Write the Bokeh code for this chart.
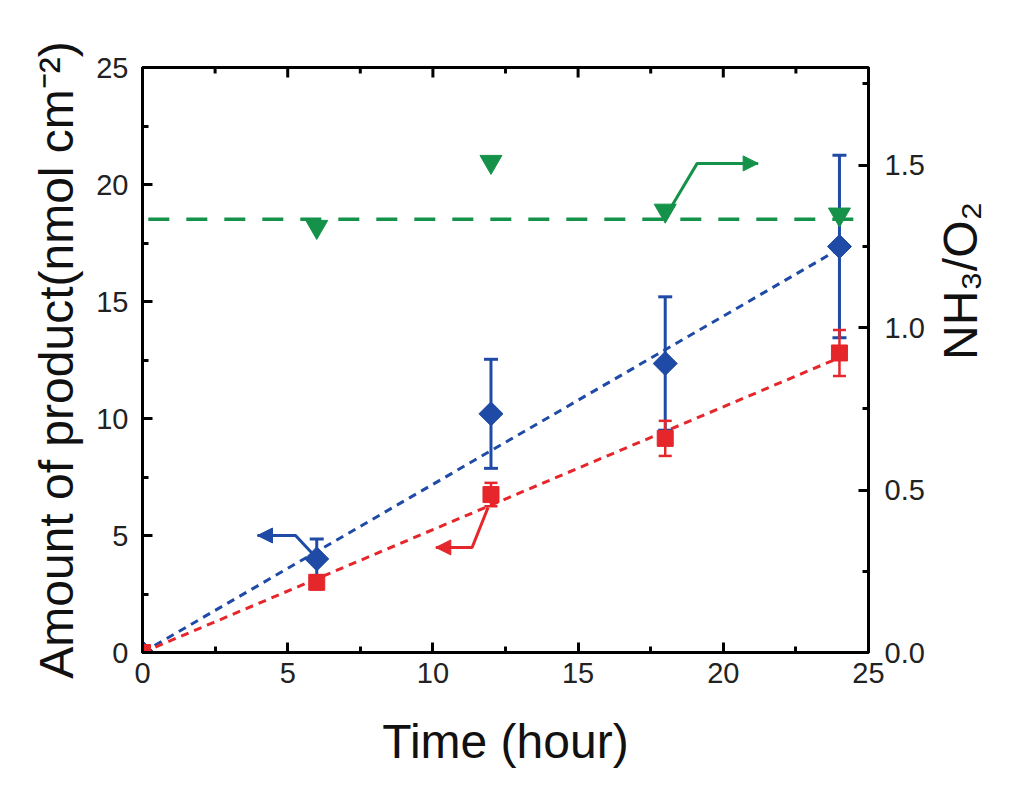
from bokeh.plotting import figure
from bokeh.models import (Range1d, LinearAxis, FixedTicker, PrintfTickFormatter,
                          Arrow, NormalHead)
from bokeh.layouts import row
from bokeh.core.properties import value
from bokeh.embed import file_html
from bokeh.resources import INLINE
from math import pi

# ---------------- data ----------------
time_h = [0, 6, 12, 18, 24]
nh3_amount = [0.0, 4.0, 10.2, 12.35, 17.35]      # blue diamonds (left axis)
nh3_err = [0.0, 0.85, 2.33, 2.85, 3.9]
o2_amount = [0.0, 3.0, 6.75, 9.15, 12.8]         # red squares (left axis)
o2_err = [0.0, 0.3, 0.5, 0.75, 0.98]

ratio_time = [6, 12, 18, 24]
ratio_vals = [1.31, 1.51, 1.36, 1.348]           # green triangles (right axis)
ratio_mean_x = [0.2, 24.6]
ratio_mean_y = [1.333, 1.333]

fit_x = [0, 24]
nh3_fit = [0, 17.25]
o2_fit = [0, 12.6]

# annotation arrows (path points, last point is the arrow tip)
blue_arrow_x = [5.85, 5.27, 3.96]
blue_arrow_y = [4.23, 5.0, 5.0]
red_arrow_x = [11.9, 11.35, 10.1]
red_arrow_y = [6.2, 4.49, 4.49]
green_arrow_x = [18.2, 19.1, 21.2]
green_arrow_y = [1.37, 1.505, 1.505]

x_ticks = [0, 5, 10, 15, 20, 25]
x_minor = [2.5, 7.5, 12.5, 17.5, 22.5]
y_ticks = [0, 5, 10, 15, 20, 25]
y_minor = [2.5, 7.5, 12.5, 17.5, 22.5]
r_ticks = [0.0, 0.5, 1.0, 1.5]
r_minor = [0.25, 0.75, 1.25, 1.75]

BLUE = "#1f4aa6"
RED = "#e5262b"
GREEN = "#15924a"
FONT = "Liberation Sans"
RIGHT_TITLE = "NH\u2083/O\u2082"

W, H = 1016, 779
FRAME_H = 585  # plot area height in px
X_MAX, Y_MAX, R_MAX = 25, 25, 1.8

p = figure(width=W, height=H, output_backend="svg", toolbar_location=None,
           x_range=Range1d(0, X_MAX), y_range=Range1d(0, Y_MAX),
           min_border_left=142, min_border_right=W - 868,
           min_border_top=67, min_border_bottom=H - 652)
p.extra_y_ranges = {"ratio": Range1d(0, R_MAX)}
p.grid.visible = False
p.outline_line_color = "black"
p.outline_line_width = 3
p.outline_line_alpha = 1
p.background_fill_color = "white"
p.border_fill_color = "white"


def style_axis(ax):
    ax.axis_line_width = 3
    ax.axis_line_color = "black"
    ax.major_tick_in = 10
    ax.major_tick_out = 0
    ax.minor_tick_in = 6
    ax.minor_tick_out = 0
    ax.major_tick_line_width = 3
    ax.minor_tick_line_width = 3
    ax.major_tick_line_color = "black"
    ax.minor_tick_line_color = "black"
    ax.major_label_text_font = FONT
    ax.major_label_text_font_size = "29px"
    ax.major_label_text_color = "#222222"
    ax.axis_label_text_font = FONT
    ax.axis_label_text_font_style = "normal"
    ax.axis_label_text_font_size = "48px"
    ax.axis_label_text_color = "#111111"


xa = p.xaxis[0]
xa.ticker = FixedTicker(ticks=x_ticks, minor_ticks=x_minor)
style_axis(xa)
xa.axis_label = "Time (hour)"
xa.major_label_standoff = 10
xa.axis_label_standoff = 29

ya = p.yaxis[0]
ya.ticker = FixedTicker(ticks=y_ticks, minor_ticks=y_minor)
style_axis(ya)
ya.axis_label = "Amount of product(nmol cm\u207b\u00b2)"
ya.major_label_standoff = 14
ya.axis_label_standoff = 10

right = LinearAxis(y_range_name="ratio",
                   ticker=FixedTicker(ticks=r_ticks, minor_ticks=r_minor),
                   formatter=PrintfTickFormatter(format="%.1f"))
style_axis(right)
right.major_label_standoff = 16
p.add_layout(right, "right")

# top frame ticks (mirror of bottom axis ticks, pointing inward)
maj_len = 10 * Y_MAX / FRAME_H
min_len = 6 * Y_MAX / FRAME_H
p.segment(x_ticks, [Y_MAX] * len(x_ticks), x_ticks, [Y_MAX - maj_len] * len(x_ticks),
          line_color="black", line_width=3)
p.segment(x_minor, [Y_MAX] * len(x_minor), x_minor, [Y_MAX - min_len] * len(x_minor),
          line_color="black", line_width=3)

# fit lines
p.line(fit_x, nh3_fit, line_color=BLUE, line_width=3, line_dash="8 6")
p.line(fit_x, o2_fit, line_color=RED, line_width=3, line_dash="8 6")
p.line(ratio_mean_x, ratio_mean_y, y_range_name="ratio", line_color=GREEN,
       line_width=3.5, line_dash="21 17")

# blue error bars + markers
nh3_lo = [v - e for v, e in zip(nh3_amount, nh3_err)]
nh3_hi = [v + e for v, e in zip(nh3_amount, nh3_err)]
p.segment(time_h, nh3_lo, time_h, nh3_hi, line_color=BLUE, line_width=3)
p.scatter(time_h, nh3_lo, marker="dash", size=14, line_color=BLUE, line_width=3)
p.scatter(time_h, nh3_hi, marker="dash", size=14, line_color=BLUE, line_width=3)
p.scatter(time_h, nh3_amount, marker="square", angle=pi / 4, size=17,
          fill_color=BLUE, line_color=BLUE)

# red error bars + markers
o2_lo = [v - e for v, e in zip(o2_amount, o2_err)]
o2_hi = [v + e for v, e in zip(o2_amount, o2_err)]
p.segment(time_h, o2_lo, time_h, o2_hi, line_color=RED, line_width=2.5)
p.scatter(time_h, o2_lo, marker="dash", size=13, line_color=RED, line_width=2.5)
p.scatter(time_h, o2_hi, marker="dash", size=13, line_color=RED, line_width=2.5)
p.scatter(time_h, o2_amount, marker="square", size=16, fill_color=RED, line_color=RED)

# green ratio markers
p.scatter(ratio_time, ratio_vals, y_range_name="ratio", marker="inverted_triangle",
          size=22, fill_color=GREEN, line_color=GREEN)

# arrows
for ax_, ay_, col, rng in [(blue_arrow_x, blue_arrow_y, BLUE, "default"),
                          (red_arrow_x, red_arrow_y, RED, "default"),
                          (green_arrow_x, green_arrow_y, GREEN, "ratio")]:
    p.line(ax_, ay_, line_color=col, line_width=3, y_range_name=rng)
    p.add_layout(Arrow(end=NormalHead(size=15, fill_color=col, line_color=col, line_width=1),
                       x_start=ax_[-2], y_start=ay_[-2], x_end=ax_[-1], y_end=ay_[-1],
                       line_color=col, line_width=3, y_range_name=rng))

layout = p
try:
    right.axis_label = RIGHT_TITLE
    right.axis_label_orientation = pi / 2
    right.axis_label_standoff = 33
except Exception:
    # fallback: title drawn in a narrow side figure, reading bottom to top
    right.axis_label = None
    side_w = 90
    p.width = W - side_w
    p.min_border_right = (W - side_w) - 868
    p2 = figure(width=side_w, height=H, output_backend="svg", toolbar_location=None,
                x_range=Range1d(0, 1), y_range=Range1d(0, 1),
                min_border=0, x_axis_location=None, y_axis_location=None)
    p2.grid.visible = False
    p2.outline_line_color = None
    p2.text(x=[(960 - (W - side_w)) / side_w], y=[(H - 359.5) / H], text=[RIGHT_TITLE],
            angle=pi / 2, text_align="center", text_baseline="middle",
            text_font=value(FONT), text_font_size="48px", text_color="#111111")
    layout = row(p, p2)

open("out.html", "w").write(file_html(layout, INLINE))
